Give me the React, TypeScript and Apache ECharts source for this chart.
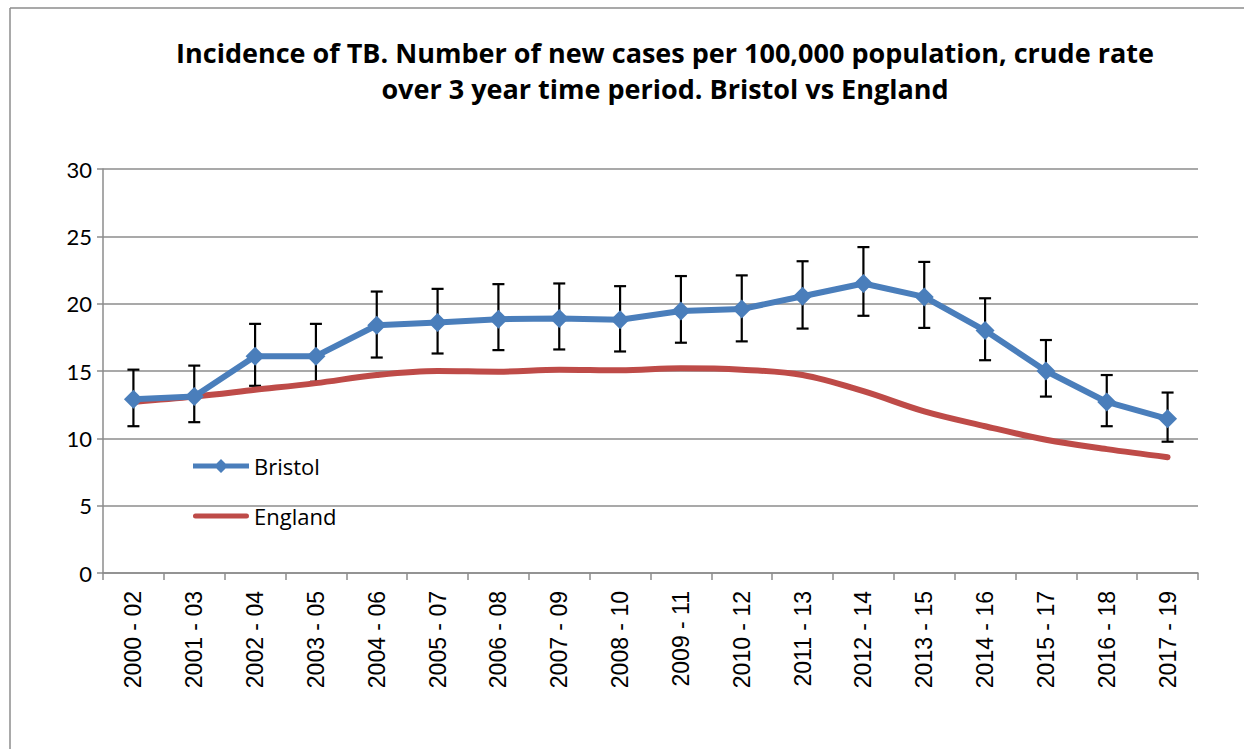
import React, { useEffect, useRef } from "react";
import * as echarts from "echarts";

const categories = [
  "2000 - 02", "2001 - 03", "2002 - 04", "2003 - 05", "2004 - 06", "2005 - 07",
  "2006 - 08", "2007 - 09", "2008 - 10", "2009 - 11", "2010 - 12", "2011 - 13",
  "2012 - 14", "2013 - 15", "2014 - 16", "2015 - 17", "2016 - 18", "2017 - 19",
];
const bristol = [12.9, 13.1, 16.1, 16.1, 18.4, 18.6, 18.85, 18.9, 18.8, 19.45, 19.6, 20.55, 21.5, 20.5, 18.0, 15.0, 12.7, 11.45];
const bristolLow = [10.9, 11.2, 13.9, 14.2, 16.0, 16.3, 16.55, 16.6, 16.45, 17.1, 17.2, 18.15, 19.1, 18.2, 15.8, 13.1, 10.9, 9.75];
const bristolHigh = [15.1, 15.4, 18.5, 18.5, 20.9, 21.1, 21.45, 21.5, 21.3, 22.05, 22.1, 23.15, 24.2, 23.1, 20.4, 17.3, 14.7, 13.4];
const england = [12.7, 13.1, 13.6, 14.1, 14.7, 15.0, 14.95, 15.1, 15.05, 15.2, 15.1, 14.7, 13.5, 12.0, 10.9, 9.9, 9.2, 8.6];
const titleLines = [
  "Incidence of TB. Number of new cases per 100,000 population, crude rate",
  "over 3 year time period. Bristol vs England",
];

const bristolIcon =
  "path://M0,4.5 L23.5,4.5 L28,0 L32.5,4.5 L56,4.5 L56,9.5 L32.5,9.5 L28,14 L23.5,9.5 L0,9.5 Z";
const englandIcon = "path://M2.5,4.5 L53.5,4.5 A2.5,2.5 0 0 1 53.5,9.5 L2.5,9.5 A2.5,2.5 0 0 1 2.5,4.5 Z";

export default function App() {
  const ref = useRef<HTMLDivElement>(null);
  useEffect(() => {
    if (!ref.current) return;
    const chart = echarts.init(ref.current, null, { renderer: "svg" });
    const errData = categories.map((_, i) => [i, bristolLow[i], bristolHigh[i]]);
    chart.setOption({
      animation: false,
      backgroundColor: "#ffffff",
      graphic: [
        { type: "line", shape: { x1: 10, y1: 8, x2: 1244, y2: 8 }, style: { stroke: "#8c8c8c", lineWidth: 1.5 } },
        { type: "line", shape: { x1: 10, y1: 8, x2: 10, y2: 749 }, style: { stroke: "#8c8c8c", lineWidth: 1.5 } },
        {
          type: "text", x: 665, y: 52,
          style: { text: titleLines[0], font: "bold 27px 'Open Sans'", fill: "#000", textAlign: "center", textVerticalAlign: "middle" },
        },
        {
          type: "text", x: 665, y: 88,
          style: { text: titleLines[1], font: "bold 27px 'Open Sans'", fill: "#000", textAlign: "center", textVerticalAlign: "middle" },
        },
      ],
      legend: {
        orient: "vertical",
        left: 188,
        top: 450,
        itemGap: 28,
        itemWidth: 56,
        itemHeight: 14,
        symbolKeepAspect: true,
        data: [
          { name: "Bristol", icon: bristolIcon },
          { name: "England", icon: englandIcon },
        ],
        textStyle: { fontFamily: "Open Sans", fontSize: 22, color: "#000" },
      },
      grid: { left: 103, right: 46, top: 169, bottom: 176, containLabel: false },
      xAxis: {
        type: "category",
        data: categories,
        boundaryGap: true,
        axisLine: { lineStyle: { color: "#8c8c8c", width: 1.5 } },
        axisTick: { show: true, length: 7, lineStyle: { color: "#8c8c8c", width: 1.5 } },
        axisLabel: { rotate: 90, margin: 18, fontFamily: "Liberation Sans", fontSize: 23, color: "#000", interval: 0 },
      },
      yAxis: {
        type: "value",
        min: 0,
        max: 30,
        interval: 5,
        axisLine: { show: true, lineStyle: { color: "#8c8c8c", width: 1.5 } },
        axisTick: { show: true, length: 6, lineStyle: { color: "#8c8c8c", width: 1.5 } },
        axisLabel: { margin: 11, fontFamily: "Lato", fontSize: 22, color: "#000" },
        splitLine: { lineStyle: { color: "#8c8c8c", width: 1.5 } },
      },
      series: [
        {
          type: "custom",
          name: "err",
          z: 1,
          data: errData,
          renderItem: (params: any, api: any) => {
            const x = api.value(0);
            const lo = api.coord([x, api.value(1)]);
            const hi = api.coord([x, api.value(2)]);
            const cap = 6;
            const style = { stroke: "#000", lineWidth: 2.2 };
            return {
              type: "group",
              children: [
                { type: "line", shape: { x1: lo[0], y1: lo[1], x2: hi[0], y2: hi[1] }, style },
                { type: "line", shape: { x1: lo[0] - cap, y1: lo[1], x2: lo[0] + cap, y2: lo[1] }, style },
                { type: "line", shape: { x1: hi[0] - cap, y1: hi[1], x2: hi[0] + cap, y2: hi[1] }, style },
              ],
            };
          },
        },
        {
          type: "line",
          name: "England",
          z: 2,
          data: england,
          smooth: 0.35,
          symbol: "none",
          showSymbol: false,
          itemStyle: { color: "#BE4B48" },
          lineStyle: { color: "#BE4B48", width: 6, cap: "round" },
        },
        {
          type: "line",
          name: "Bristol",
          z: 3,
          data: bristol,
          symbol: "diamond",
          symbolSize: 19,
          itemStyle: { color: "#4A7EBB" },
          lineStyle: { color: "#4A7EBB", width: 6 },
        },
      ],
    });
    return () => chart.dispose();
  }, []);
  return <div ref={ref} style={{ position: "fixed", left: 0, top: 0, width: 1244, height: 749 }} />;
}
